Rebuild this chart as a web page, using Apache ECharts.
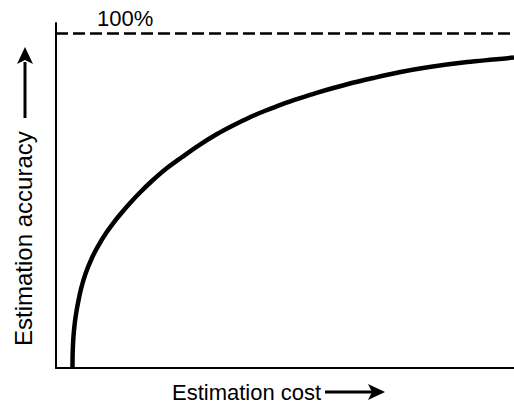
<!DOCTYPE html>
<html>
<head>
<meta charset="utf-8">
<script src="https://cdn.jsdelivr.net/npm/echarts@6/dist/echarts.min.js"></script>
<style>html,body{margin:0;padding:0;background:#fff}#c{width:514px;height:412px}</style>
</head>
<body>
<div id="c"></div>
<script>
// Estimation cost (0..100 of axis length) and estimation accuracy (% , 100 = dashed line)
var cost = [3.60, 3.64, 3.79, 4.10, 4.41, 4.80, 5.51, 6.50, 7.84, 9.06, 10.94, 12.51, 14.28, 16.18, 18.23, 20.94, 23.97, 27.55, 30.94, 35.17, 38.43, 42.45, 45.55, 49.45, 53.28, 56.72, 63.78, 69.26, 75.24, 81.53, 89.80, 100];
var accuracy = [0, 4.48, 8.96, 13.43, 16.42, 19.40, 23.88, 28.36, 32.84, 36.12, 40.30, 43.28, 46.27, 49.25, 52.24, 55.82, 59.40, 62.99, 66.27, 69.85, 72.24, 74.93, 76.72, 78.81, 80.60, 82.09, 84.78, 86.57, 88.36, 89.85, 91.34, 92.69];
var maxLevel = 100;
var xName = 'Estimation cost';
var yName = 'Estimation accuracy';
var maxLabel = '100%';

var data = cost.map(function (c, i) { return [c, accuracy[i]]; });
var font = 'Liberation Sans, Arial, sans-serif';

var chart = echarts.init(document.getElementById('c'), null, {renderer: 'svg'});
chart.setOption({
  animation: false,
  backgroundColor: '#fff',
  grid: {left: 56, right: 0, top: 23, bottom: 44},
  xAxis: {
    type: 'value', min: 0, max: 100,
    axisLine: {show: true, lineStyle: {color: '#000', width: 2}},
    axisTick: {show: false}, axisLabel: {show: false}, splitLine: {show: false}
  },
  yAxis: {
    type: 'value', min: 0, max: 103,
    axisLine: {show: true, lineStyle: {color: '#000', width: 2}},
    axisTick: {show: false}, axisLabel: {show: false}, splitLine: {show: false}
  },
  series: [{
    type: 'line',
    data: data,
    smooth: 0.3,
    showSymbol: false,
    lineStyle: {color: '#000', width: 4.5, join: 'round'},
    markLine: {
      silent: true,
      symbol: 'none',
      lineStyle: {color: '#000', width: 2.5, type: [12, 5]},
      label: {show: false},
      data: [{yAxis: maxLevel}]
    }
  }],
  graphic: [
    {type: 'text', left: 97, top: 7, style: {text: maxLabel, font: '22px ' + font, fill: '#000'}},
    {type: 'text', x: 172, y: 392, style: {text: xName, font: '22px ' + font, fill: '#000', textVerticalAlign: 'middle', textAlign: 'left'}},
    {type: 'line', shape: {x1: 325, y1: 392, x2: 372, y2: 392}, style: {stroke: '#000', lineWidth: 3}},
    {type: 'polygon', shape: {points: [[385, 392], [368, 384], [372, 392], [368, 400]]}, style: {fill: '#000'}},
    {type: 'text', x: 23, y: 346, rotation: Math.PI / 2, style: {text: yName, font: '24px ' + font, fill: '#000', textVerticalAlign: 'middle', textAlign: 'left'}},
    {type: 'line', shape: {x1: 25, y1: 118, x2: 25, y2: 62}, style: {stroke: '#000', lineWidth: 3}},
    {type: 'polygon', shape: {points: [[25, 47], [17, 64], [25, 60], [33, 64]]}, style: {fill: '#000'}}
  ]
});
</script>
</body>
</html>
